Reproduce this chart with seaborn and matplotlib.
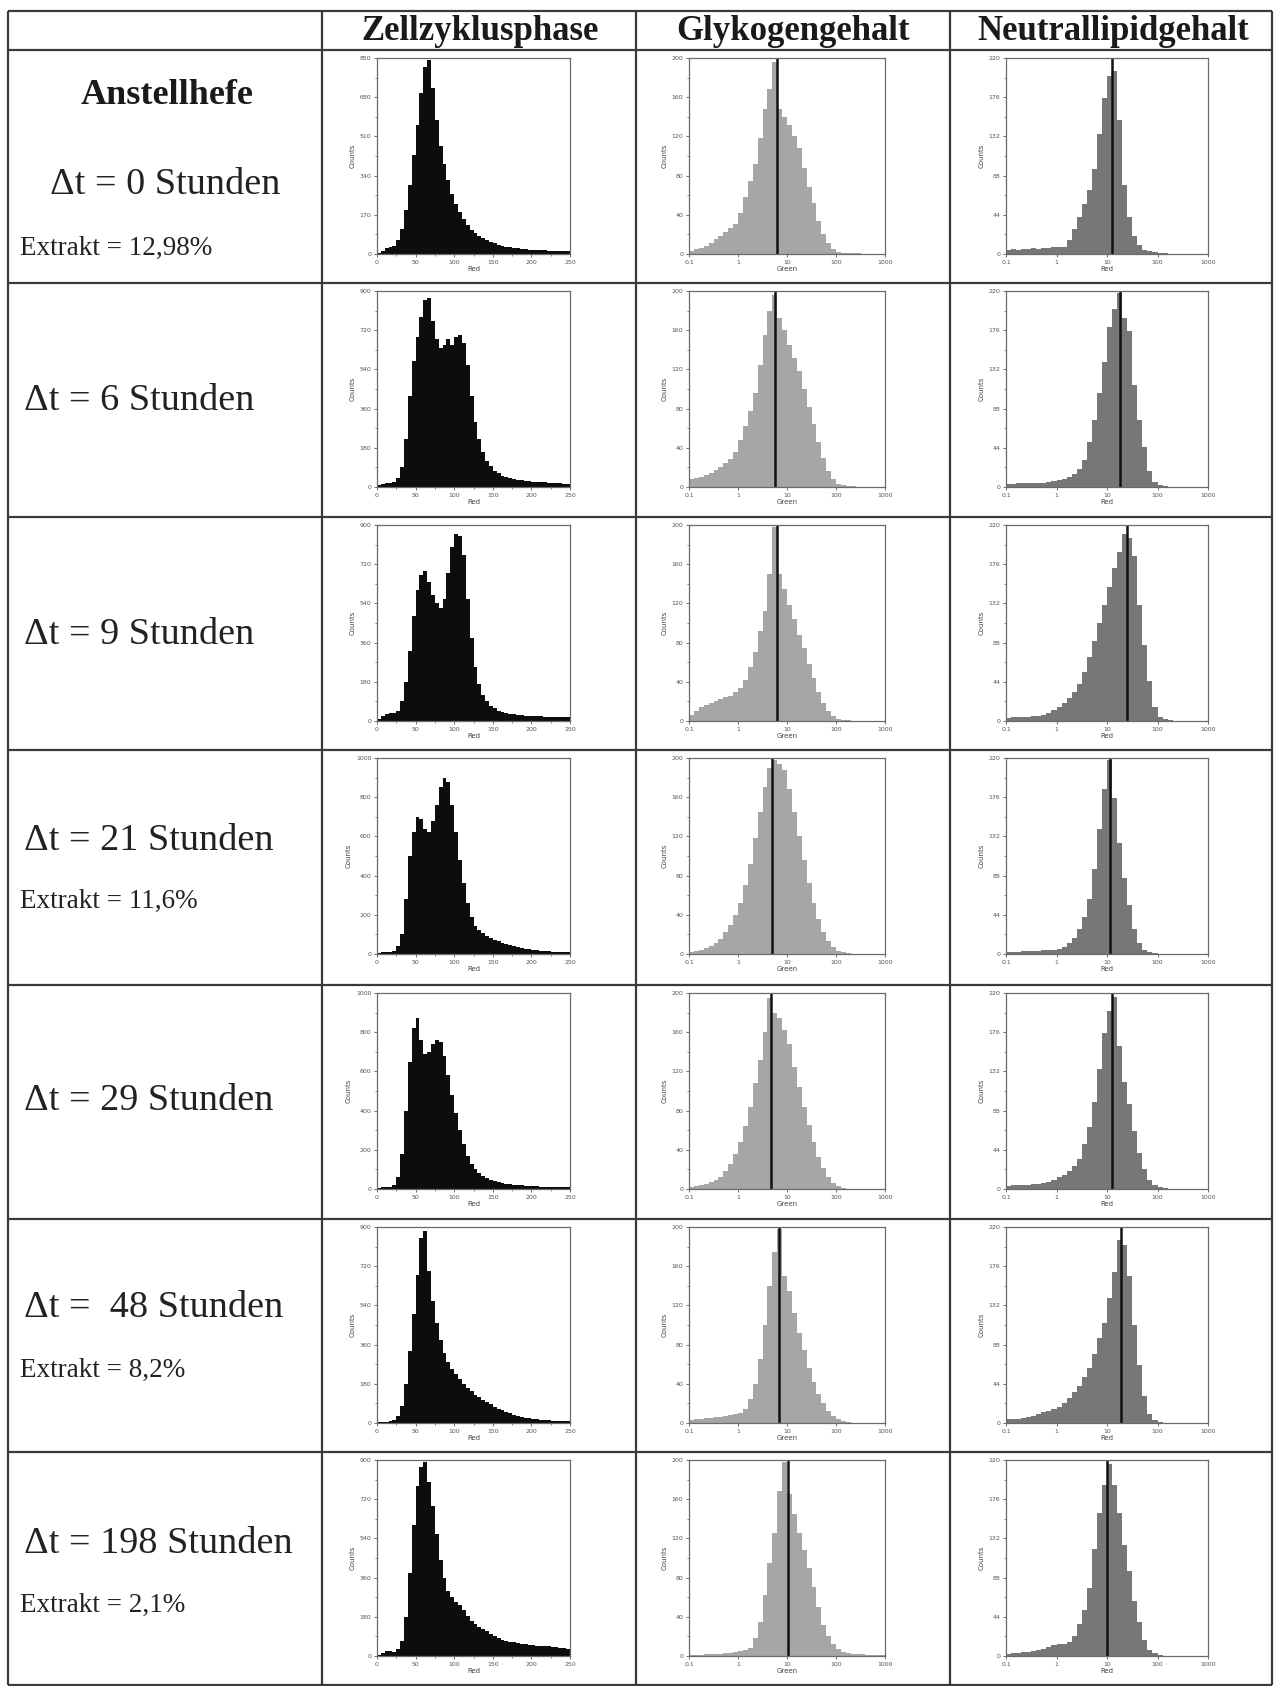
import numpy as np
import matplotlib.pyplot as plt
from matplotlib.ticker import AutoMinorLocator
import seaborn as sns

W, H = 1274, 1686

spalten = ['Zellzyklusphase', 'Glykogengehalt', 'Neutrallipidgehalt']
zeiten = ['0', '6', '9', '21', '29', ' 48', '198']
extrakt = ['12,98%', None, None, '11,6%', None, '8,2%', '2,1%']

# Zellzyklusphase: Klassen 0-250, Breite 5
zell_ymax = [850, 900, 900, 1000, 1000, 900, 900]
zell_t0 = [5, 15, 25, 30, 35, 60, 110, 190, 300, 430, 560, 700, 810, 840, 720, 580, 470, 390, 320, 260,
           215, 180, 150, 125, 105, 90, 78, 68, 60, 52, 46, 40, 36, 32, 29, 26, 24, 22, 20, 19,
           18, 17, 16, 16, 15, 14, 14, 13, 12, 12]
zell_t6 = [10, 15, 20, 20, 25, 40, 90, 220, 420, 580, 690, 780, 860, 870, 760, 680, 640, 650, 680, 650,
           690, 700, 660, 560, 420, 300, 220, 160, 120, 95, 75, 62, 52, 45, 40, 36, 33, 30, 28, 26,
           25, 24, 22, 21, 20, 19, 18, 17, 16, 16]
zell_t9 = [10, 25, 30, 35, 35, 45, 90, 180, 320, 480, 600, 670, 690, 640, 580, 540, 520, 560, 680, 800,
           860, 850, 760, 560, 380, 250, 170, 120, 90, 70, 58, 48, 42, 37, 33, 30, 28, 26, 25, 24,
           23, 22, 21, 20, 20, 19, 18, 18, 17, 17]
zell_t21 = [5, 8, 10, 12, 15, 40, 100, 280, 500, 620, 700, 690, 640, 620, 680, 760, 850, 900, 880, 760,
            620, 480, 360, 260, 190, 145, 120, 105, 92, 80, 72, 64, 57, 50, 45, 40, 36, 32, 28, 25,
            22, 19, 17, 15, 13, 12, 11, 10, 9, 8]
zell_t29 = [5, 8, 10, 12, 20, 60, 180, 400, 650, 820, 870, 760, 690, 700, 740, 760, 750, 680, 580, 480,
            390, 300, 230, 170, 130, 100, 80, 65, 55, 47, 40, 35, 31, 28, 25, 22, 20, 18, 16, 15,
            14, 13, 12, 11, 10, 10, 9, 9, 8, 8]
zell_t48 = [3, 5, 6, 8, 12, 30, 80, 180, 330, 500, 680, 850, 880, 700, 560, 460, 380, 320, 280, 250,
            225, 200, 180, 160, 145, 130, 118, 105, 95, 85, 75, 66, 58, 50, 44, 38, 33, 29, 25, 22,
            19, 17, 15, 13, 12, 11, 10, 9, 8, 8]
zell_t198 = [5, 15, 25, 25, 20, 30, 70, 180, 380, 600, 780, 870, 890, 800, 690, 560, 440, 360, 300, 270,
             250, 235, 210, 185, 160, 145, 135, 125, 115, 100, 90, 82, 75, 70, 65, 62, 60, 56, 54, 52,
             50, 48, 46, 44, 44, 43, 40, 38, 36, 34]

# Glykogengehalt: 0.1-1000 log, 10 Klassen je Dekade
glyko_t0 = [3, 5, 6, 8, 11, 15, 18, 22, 27, 31, 42, 58, 74, 92, 118, 148, 168, 196, 148, 140,
            132, 120, 108, 88, 68, 52, 34, 20, 11, 5, 2, 1, 1, 1, 1, 0, 0, 0, 0, 0]
glyko_t6 = [8, 9, 10, 12, 14, 17, 20, 24, 29, 36, 48, 62, 78, 96, 125, 155, 180, 196, 172, 160,
            145, 132, 118, 100, 82, 64, 46, 30, 16, 8, 3, 2, 1, 1, 0, 0, 0, 0, 0, 0]
glyko_t9 = [6, 10, 14, 16, 18, 20, 22, 24, 26, 30, 34, 42, 55, 70, 92, 112, 150, 198, 150, 135,
            118, 104, 88, 74, 58, 44, 30, 18, 10, 5, 2, 1, 1, 0, 0, 0, 0, 0, 0, 0]
glyko_t21 = [2, 3, 4, 6, 8, 11, 15, 22, 30, 40, 52, 70, 92, 118, 145, 170, 190, 198, 194, 188,
             168, 145, 120, 96, 72, 52, 36, 22, 13, 7, 3, 2, 1, 0, 0, 0, 0, 0, 0, 0]
glyko_t29 = [2, 3, 4, 5, 7, 9, 12, 18, 26, 36, 48, 64, 84, 108, 132, 160, 195, 180, 174, 162,
             148, 125, 104, 84, 65, 48, 33, 21, 12, 6, 3, 1, 0, 0, 0, 0, 0, 0, 0, 0]
glyko_t48 = [3, 4, 4, 5, 5, 6, 6, 7, 8, 9, 10, 14, 24, 40, 65, 100, 140, 175, 198, 150,
             135, 112, 92, 74, 56, 42, 30, 20, 12, 7, 4, 2, 1, 0, 0, 0, 0, 0, 0, 0]
glyko_t198 = [1, 1, 1, 2, 2, 2, 2, 3, 3, 4, 5, 6, 8, 18, 35, 62, 95, 125, 168, 198,
              165, 145, 125, 108, 90, 70, 50, 32, 20, 12, 7, 4, 3, 2, 2, 2, 1, 1, 1, 1]
glyko_marker = [6.3, 5.7, 6.3, 4.9, 4.7, 7.0, 10.5]

# Neutrallipidgehalt: 0.1-1000 log, 10 Klassen je Dekade
lipid_t0 = [5, 6, 5, 6, 6, 7, 6, 7, 7, 8, 8, 8, 16, 28, 42, 56, 72, 95, 135, 175,
            200, 205, 150, 78, 42, 20, 10, 5, 3, 2, 1, 1, 0, 0, 0, 0, 0, 0, 0, 0]
lipid_t6 = [3, 3, 4, 4, 4, 5, 5, 5, 6, 7, 8, 9, 11, 15, 20, 30, 50, 75, 105, 140,
            180, 200, 218, 190, 175, 115, 75, 45, 18, 6, 2, 1, 0, 0, 0, 0, 0, 0, 0, 0]
lipid_t9 = [3, 4, 4, 5, 5, 6, 6, 7, 9, 12, 16, 20, 26, 32, 42, 55, 72, 90, 110, 130,
            150, 172, 190, 210, 205, 185, 130, 85, 45, 16, 5, 2, 1, 0, 0, 0, 0, 0, 0, 0]
lipid_t21 = [2, 2, 2, 3, 3, 3, 3, 4, 4, 5, 6, 8, 12, 18, 28, 42, 62, 95, 140, 185,
             218, 175, 125, 85, 55, 28, 12, 5, 2, 1, 0, 0, 0, 0, 0, 0, 0, 0, 0, 0]
lipid_t29 = [3, 4, 4, 5, 5, 6, 6, 7, 8, 10, 13, 16, 20, 26, 34, 50, 70, 98, 135, 175,
             200, 215, 160, 120, 95, 65, 40, 22, 10, 4, 2, 1, 0, 0, 0, 0, 0, 0, 0, 0]
lipid_t48 = [4, 5, 5, 6, 7, 8, 10, 12, 14, 16, 18, 22, 28, 35, 42, 52, 62, 78, 95, 112,
             140, 170, 205, 200, 165, 110, 65, 30, 10, 3, 1, 0, 0, 0, 0, 0, 0, 0, 0, 0]
lipid_t198 = [2, 3, 3, 4, 5, 6, 7, 8, 10, 12, 13, 14, 16, 22, 36, 52, 76, 120, 160, 192,
              215, 192, 160, 125, 95, 62, 38, 18, 7, 3, 1, 0, 0, 0, 0, 0, 0, 0, 0, 0]
lipid_marker = [12.3, 17.8, 25.0, 11.5, 12.7, 18.6, 9.8]

zell = [zell_t0, zell_t6, zell_t9, zell_t21, zell_t29, zell_t48, zell_t198]
glyko = [glyko_t0, glyko_t6, glyko_t9, glyko_t21, glyko_t29, glyko_t48, glyko_t198]
lipid = [lipid_t0, lipid_t6, lipid_t9, lipid_t21, lipid_t29, lipid_t48, lipid_t198]

zell_centers = np.arange(2.5, 250, 5)
log_centers = 10 ** (np.arange(40) / 10 - 1 + 0.05)

sns.set_style('white')
plt.rcParams['font.family'] = ['DejaVu Sans']
SERIF = ['Liberation Serif', 'DejaVu Serif']

fig = plt.figure(figsize=(W / 100, H / 100), dpi=100)

bg = fig.add_axes([0, 0, 1, 1], zorder=-1)
bg.set_xlim(0, W)
bg.set_ylim(H, 0)
bg.axis('off')

# Tabellenraster
row_lines = [50, 283, 517, 750, 985, 1219, 1452, 1685]
col_lines = [8, 322, 636, 950, 1272]
bg.hlines([11] + row_lines, 8, 1272, color='#3a3a3a', lw=1.6)
bg.vlines(col_lines, 11, 1685, color='#3a3a3a', lw=1.6)

for x, s in zip([480, 793, 1113], spalten):
    bg.text(x, 32, s, ha='center', va='center', fontsize=25, fontweight='bold',
            family=SERIF, color='#1a1a1a')

bg.text(167, 95, 'Anstellhefe', ha='center', va='center', fontsize=26,
        fontweight='bold', family=SERIF, color='#1a1a1a')

dt_y = [185, 401, 635, 841, 1101, 1308, 1544]
ex_y = [248, None, None, 901, None, 1370, 1605]
for i in range(7):
    x0 = 50 if i == 0 else 24
    bg.text(x0, dt_y[i], '\u0394t = ' + zeiten[i] + ' Stunden', ha='left', va='center',
            fontsize=27.5, family=SERIF, color='#222222')
    if extrakt[i]:
        bg.text(20, ex_y[i], 'Extrakt = ' + extrakt[i], ha='left', va='center',
                fontsize=19.5, family=SERIF, color='#222222')


def make_ax(x0, x1, top):
    y1 = top + 196
    return fig.add_axes([x0 / W, 1 - y1 / H, (x1 - x0) / W, 196 / H])


def style(ax, ymax, xlabel):
    for sp in ax.spines.values():
        sp.set_color('#6a6a6a')
        sp.set_linewidth(0.9)
    ax.set_ylim(0, ymax)
    ax.set_yticks(np.linspace(0, ymax, 6))
    ax.set_yticklabels([str(int(v)) for v in np.linspace(0, ymax, 6)])
    ax.yaxis.set_minor_locator(AutoMinorLocator(2))
    ax.tick_params(axis='both', which='major', labelsize=4.5, length=2.5, width=0.6,
                   colors='#555555', pad=1.5)
    ax.tick_params(axis='both', which='minor', length=1.5, width=0.5, colors='#555555')
    ax.tick_params(axis='x', which='both', bottom=True)
    ax.tick_params(axis='y', which='both', left=True)
    ax.set_ylabel('Counts', fontsize=5, color='#444444', labelpad=3)
    ax.set_xlabel(xlabel, fontsize=5, color='#444444', labelpad=1)


for i in range(7):
    top = row_lines[i] + 8

    ax = make_ax(377, 570, top)
    sns.histplot(x=zell_centers, weights=zell[i], bins=50, binrange=(0, 250), element='step',
                 fill=True, color='#0d0d0d', alpha=1, linewidth=0, ax=ax)
    ax.set_xlim(0, 250)
    ax.set_xticks([0, 50, 100, 150, 200, 250])
    ax.xaxis.set_minor_locator(AutoMinorLocator(2))
    style(ax, zell_ymax[i], 'Red')

    ax = make_ax(689, 885, top)
    sns.histplot(x=log_centers, weights=glyko[i], bins=40, binrange=(-1, 3), log_scale=True,
                 element='step', fill=True, color='#a6a6a6', alpha=1, linewidth=0, ax=ax)
    ax.axvline(glyko_marker[i], color='#111111', lw=1.8)
    ax.set_xlim(0.1, 1000)
    ax.set_xticks([0.1, 1, 10, 100, 1000])
    ax.set_xticklabels(['0.1', '1', '10', '100', '1000'])
    ax.xaxis.set_minor_locator(plt.NullLocator())
    style(ax, 200, 'Green')

    ax = make_ax(1006, 1208, top)
    sns.histplot(x=log_centers, weights=lipid[i], bins=40, binrange=(-1, 3), log_scale=True,
                 element='step', fill=True, color='#777777', alpha=1, linewidth=0, ax=ax)
    ax.axvline(lipid_marker[i], color='#111111', lw=1.8)
    ax.set_xlim(0.1, 1000)
    ax.set_xticks([0.1, 1, 10, 100, 1000])
    ax.set_xticklabels(['0.1', '1', '10', '100', '1000'])
    ax.xaxis.set_minor_locator(plt.NullLocator())
    style(ax, 220, 'Red')

fig.savefig('out.png', dpi=100, facecolor='white')
